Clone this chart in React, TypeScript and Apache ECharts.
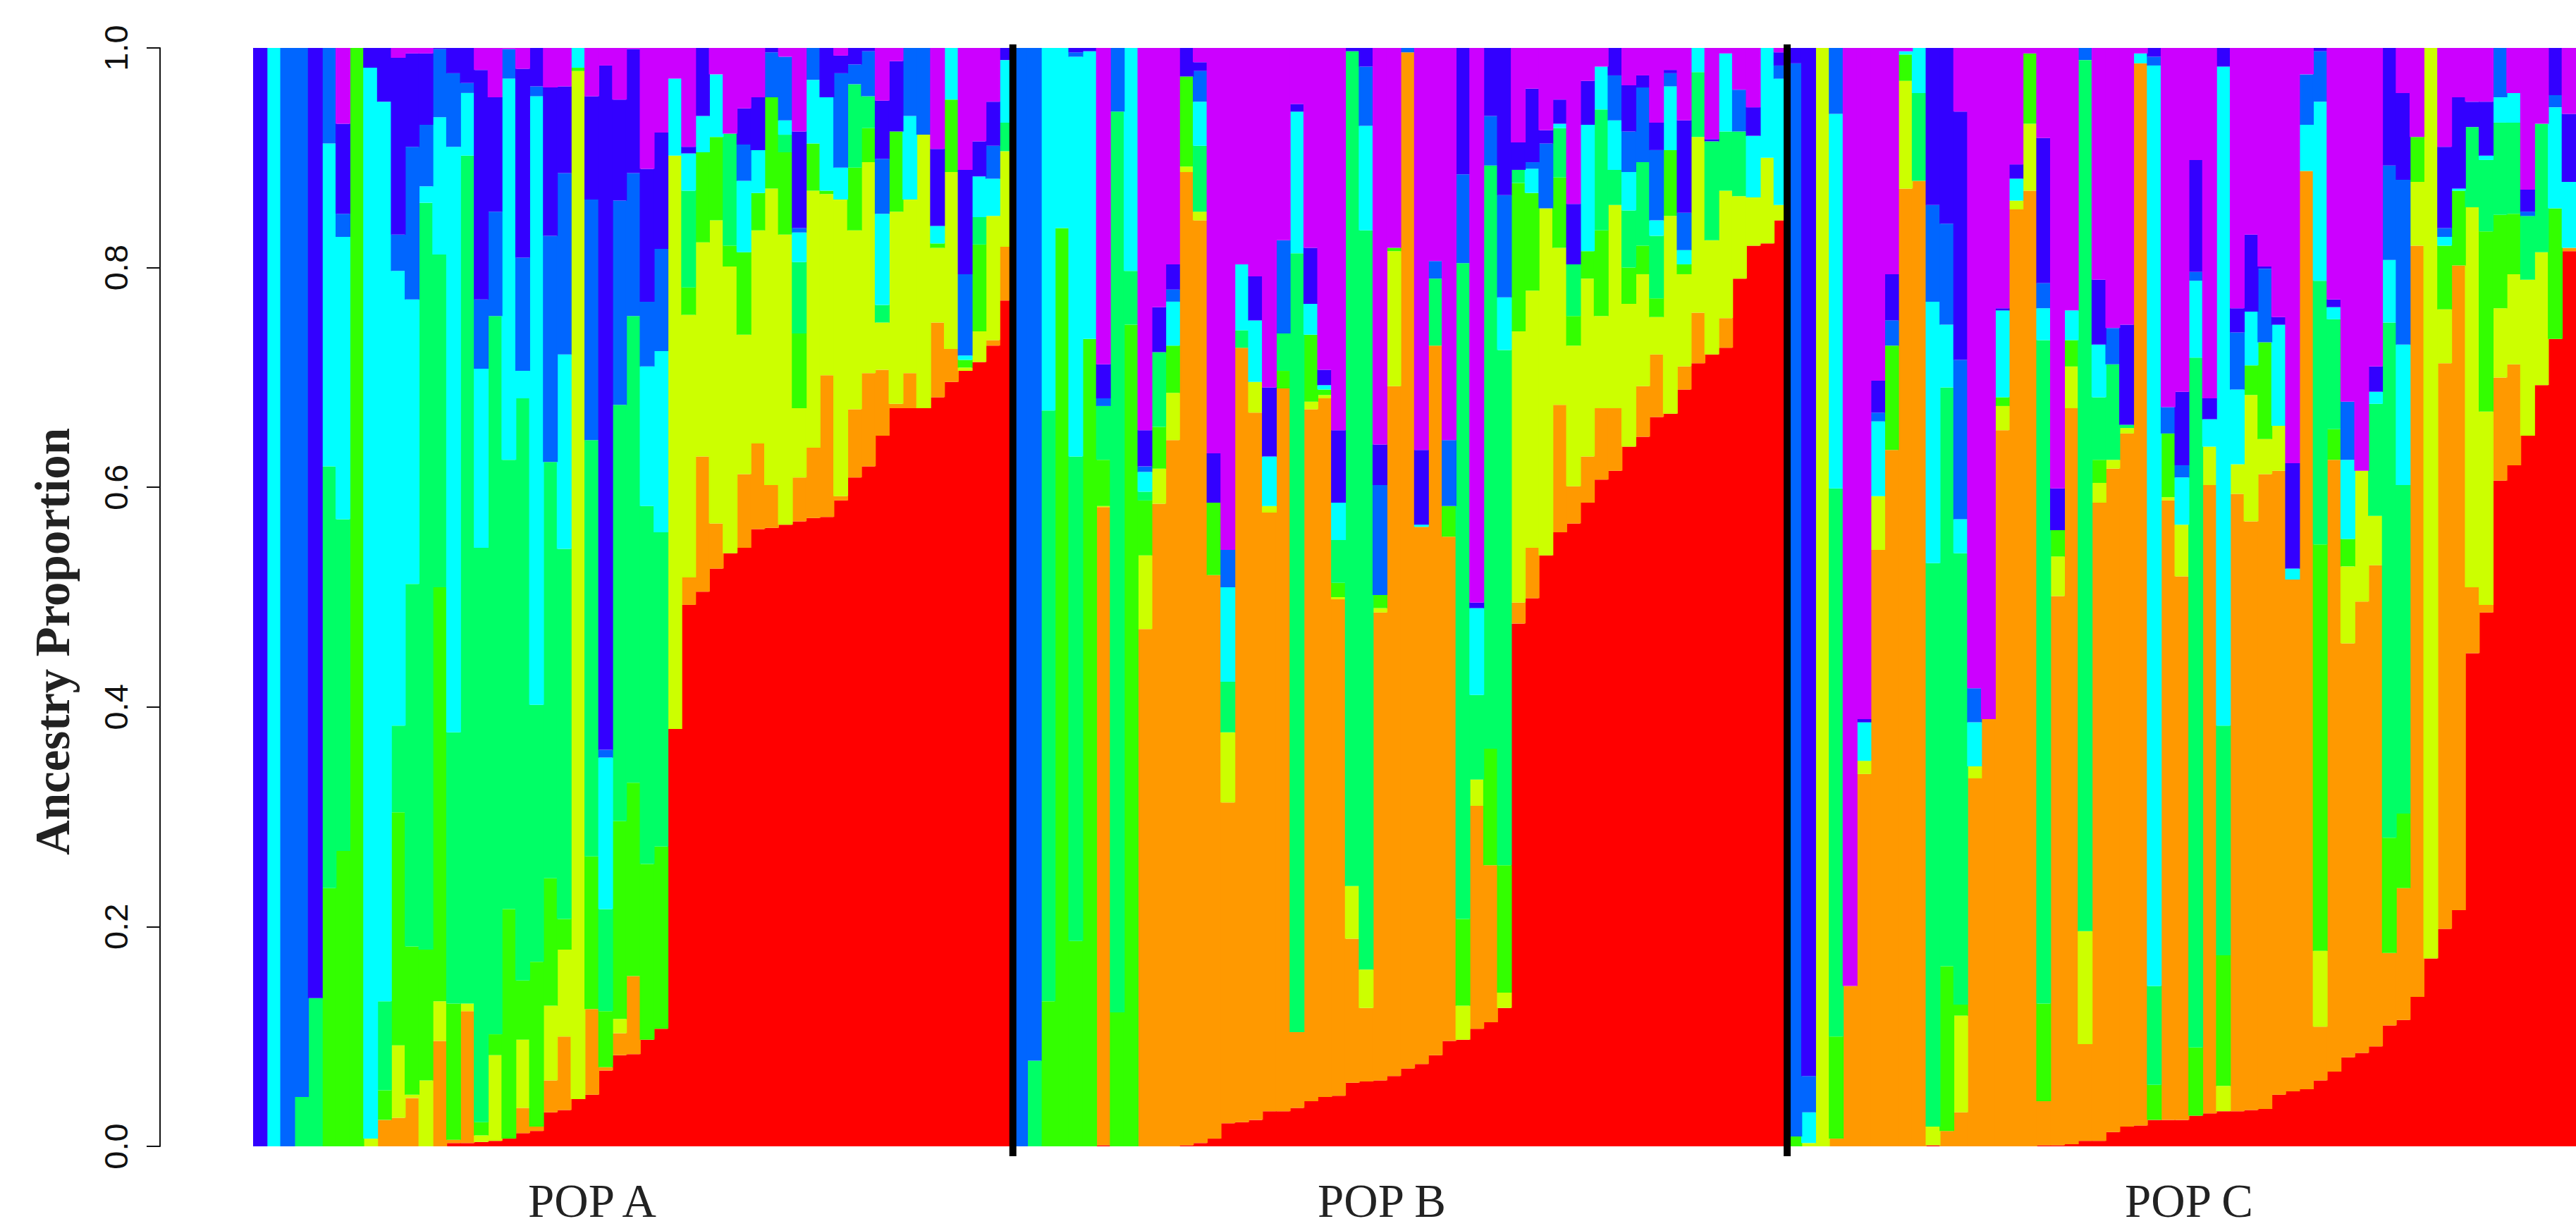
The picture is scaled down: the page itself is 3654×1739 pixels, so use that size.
import React, { useEffect, useRef } from "react";
import * as echarts from "echarts";

// Ancestry components, bottom to top of every bar
const R = 0, O = 1, Y = 2, G = 3, S = 4, C = 5, B = 6, I = 7, M = 8;
const componentColors = ["#FF0000", "#FF9900", "#CCFF00", "#33FF00", "#00FF66", "#00FFFF", "#0066FF", "#3300FF", "#CC00FF"];
const yTicks = ["0.0", "0.2", "0.4", "0.6", "0.8", "1.0"];
const popLabels = ["POP A", "POP B", "POP C"];

// Each bar: component, cumulative top of that component, component, cumulative top...
const popA = [
  [I,1],[C,1],[B,1],[S,.045,B,1],[S,.135,I,1],
  [G,.235,S,.619,C,.913,B,1],
  [G,.269,S,.571,C,.828,B,.849,I,.931,M,1],
  [G,1],
  [Y,.007,C,.982,I,1],
  [O,.024,G,.051,S,.132,C,.951,I,1],
  [O,.026,Y,.092,G,.304,S,.383,C,.797,B,.830,I,.991,M,1],
  [O,.044,Y,.047,G,.182,S,.512,C,.771,B,.910,I,.995,M,1],
  [Y,.060,G,.179,S,.859,C,.874,B,.930,I,.995,M,1],
  [O,.096,Y,.132,G,.509,S,.812,C,.937,B,.999,I,1],
  [R,.003,O,.006,G,.130,S,.377,C,.910,B,.977,I,1],
  [R,.003,O,.123,Y,.130,S,.902,C,.959,B,.968,I,1],
  [R,.004,Y,.010,G,.022,S,.545,C,.708,B,.771,I,.980,M,1],
  [R,.005,Y,.083,G,.102,S,.756,B,.851,I,.955,M,1],
  [R,.007,G,.216,S,.625,C,.972,B,.999,M,1],
  [R,.012,O,.035,Y,.097,G,.151,S,.681,C,.706,B,.809,I,.981,M,1],
  [R,.014,O,.018,G,.168,S,.402,C,.956,B,.965,I,1],
  [R,.031,O,.060,Y,.128,G,.244,S,.623,B,.829,I,.964,M,1],
  [R,.033,O,.100,Y,.179,G,.207,S,.544,C,.721,B,.886,I,.965,M,1],
  [R,.043,Y,.979,G,.982,C,1],
  [R,.047,O,.125,G,.264,S,.643,B,.862,I,.956,M,1],
  [R,.069,O,.072,G,.123,S,.216,C,.354,B,.361,I,.984,M,1],
  [R,.083,O,.103,Y,.116,G,.296,S,.675,B,.861,I,.953,M,1],
  [R,.084,O,.155,G,.331,S,.756,B,.886,I,.999,M,1],
  [R,.097,G,.257,S,.583,C,.710,B,.769,I,.890,M,1],
  [R,.107,G,.273,S,.559,C,.724,B,.817,I,.923,M,1],
  [R,.380,Y,.902,C,.972,M,1],
  [R,.493,O,.518,Y,.757,G,.782,S,.870,C,.904,I,.910,M,1],
  [R,.505,O,.628,Y,.823,G,.905,C,.938,I,1],
  [R,.526,O,.567,Y,.843,G,.919,C,.976,M,1],
  [R,.540,Y,.801,G,.820,S,.922,M,1],
  [R,.545,O,.612,Y,.739,G,.814,C,.879,B,.912,I,.945,M,1],
  [R,.562,O,.640,Y,.834,G,.868,C,.907,I,.955,M,1],
  [R,.563,O,.602,Y,.872,G,.955,B,.996,I,1],
  [R,.566,Y,.830,G,.905,S,.921,C,.934,B,.992,M,1],
  [R,.569,O,.609,Y,.672,G,.740,S,.805,C,.832,B,.836,I,.924,M,1],
  [R,.572,O,.636,Y,.870,G,.913,C,.971,B,1],
  [R,.573,O,.702,Y,.867,G,.870,C,.955,I,1],
  [R,.588,O,.592,Y,.862,C,.891,B,.977,I,.993,M,1],
  [R,.609,O,.671,Y,.834,G,.891,S,.967,B,.985,I,1],
  [R,.619,O,.704,Y,.896,G,.927,S,.956,B,.997,I,1],
  [R,.647,O,.707,Y,.750,S,.766,C,.849,B,.899,I,.952,M,1],
  [R,.672,O,.676,Y,.851,G,.924,I,.988,M,1],
  [R,.672,O,.704,Y,.862,C,.938,B,1],
  [R,.672,Y,.921,B,1],
  [R,.682,O,.750,Y,.818,G,.822,C,.838,I,.908,M,1],
  [R,.696,O,.726,Y,.887,G,.953,C,1],
  [R,.706,Y,.709,G,.716,C,.720,B,.794,I,.889,M,1],
  [R,.714,Y,.742,G,.821,S,.846,C,.883,I,.915,M,1],
  [R,.729,O,.734,Y,.847,C,.881,B,.911,I,.951,M,1],
  [R,.770,O,.819,Y,.906,S,.932,C,.989,I,1],
];

const popB = [
  [B,1],[S,.078,B,1],
  [G,.132,S,.670,C,1],
  [G,.836,C,1],
  [G,.187,S,.628,C,.992,B,.996,I,1],
  [G,.735,C,.997,I,1],
  [R,.001,O,.582,Y,.583,G,.625,S,.674,B,.681,I,.712,M,1],
  [G,.122,S,.942,B,1],
  [G,.748,S,.797,C,1],
  [O,.471,Y,.538,G,.588,S,.596,C,.614,B,.619,I,.652,M,1],
  [O,.585,Y,.617,G,.655,S,.723,I,.764,M,1],
  [O,.643,Y,.686,G,.729,C,.769,B,.780,I,.803,M,1],
  [R,.001,O,.887,Y,.892,G,.974,I,1],
  [R,.003,O,.843,Y,.851,S,.911,C,.951,B,.979,I,.987,M,1],
  [R,.007,O,.520,G,.586,I,.631,M,1],
  [R,.021,O,.313,Y,.377,S,.423,C,.509,B,.543,M,1],
  [R,.022,O,.727,S,.743,C,.803,M,1],
  [R,.024,O,.668,Y,.696,C,.752,I,.792,M,1],
  [R,.032,O,.577,Y,.583,C,.628,I,.691,M,1],
  [R,.032,O,.690,G,.706,S,.740,B,.825,M,1],
  [R,.035,O,.104,S,.813,C,.942,I,.949,M,1],
  [R,.041,O,.671,Y,.678,G,.739,C,.767,I,.818,M,1],
  [R,.045,O,.681,Y,.684,G,.689,C,.693,I,.707,M,1],
  [R,.046,O,.498,Y,.500,G,.513,S,.552,C,.586,I,.652,M,1],
  [R,.058,O,.189,Y,.237,S,.997,I,1],
  [R,.059,O,.126,Y,.161,S,.834,C,.929,B,.983,I,1],
  [R,.060,O,.486,Y,.490,G,.502,B,.602,I,.639,M,1],
  [R,.064,O,.692,Y,.815,G,.818,M,1],
  [R,.071,O,.996,B,1],
  [R,.075,O,.564,C,.566,I,.634,M,1],
  [R,.083,O,.729,S,.790,B,.806,M,1],
  [R,.096,O,.555,G,.583,B,.643,M,1],
  [R,.097,Y,.128,G,.207,S,.804,B,.885,I,1],
  [R,.107,O,.310,Y,.334,S,.411,C,.490,I,.495,M,1],
  [R,.113,O,.256,G,.362,S,.893,B,.938,I,1],
  [R,.126,Y,.140,G,.256,S,.725,C,.773,B,.866,I,1],
  [R,.476,O,.495,Y,.742,G,.877,S,.889,I,.914,M,1],
  [R,.499,O,.545,Y,.779,G,.868,C,.890,B,.896,I,.963,M,1],
  [R,.538,Y,.854,B,.913,I,.925,M,1],
  [R,.559,O,.675,Y,.818,G,.882,S,.927,C,.931,I,.953,M,1],
  [R,.567,O,.601,Y,.729,G,.756,S,.803,I,.858,M,1],
  [R,.586,O,.628,Y,.790,G,.815,C,.930,I,.970,M,1],
  [R,.607,O,.672,Y,.756,G,.834,S,.944,C,.983,M,1],
  [R,.615,O,.672,Y,.857,S,.889,C,.934,B,.975,I,1],
  [R,.637,Y,.767,G,.800,S,.852,C,.887,B,.924,I,.966,M,1],
  [R,.646,O,.692,Y,.794,G,.820,S,.896,B,.964,I,.975,M,1],
  [R,.664,O,.721,Y,.755,G,.772,S,.829,C,.843,B,.907,I,.932,M,1],
  [R,.667,Y,.847,G,.907,C,.965,B,.977,I,.980,M,1],
  [R,.689,O,.710,Y,.794,G,.803,C,.816,B,.850,I,.934,M,1],
  [R,.713,O,.759,Y,.919,S,.978,C,1],
  [R,.721,Y,.825,S,.915,I,.917,M,1],
  [R,.727,O,.754,Y,.870,S,.924,C,.995,M,1],
  [R,.790,Y,.865,S,.924,B,.962,M,1],
  [R,.820,Y,.864,C,.920,I,.946,M,1],
  [R,.822,Y,.900,C,1],
  [R,.843,Y,.857,C,.972,B,.984,I,.996,M,1],
];

const popC = [
  [G,.009,B,.986,I,1],
  [Y,.003,C,.031,B,.064,I,1],
  [Y,1],
  [O,.007,G,.100,S,.599,C,.940,B,1],
  [O,.146,M,1],
  [O,.339,Y,.351,C,.386,I,.389,M,1],
  [O,.543,Y,.592,C,.660,B,.668,I,.697,M,1],
  [O,.634,G,.729,B,.752,I,.794,M,1],
  [O,.872,Y,.970,G,.994,C,.997,M,1],
  [O,.879,S,.959,C,1],
  [R,.001,Y,.018,S,.531,C,.769,B,.857,I,1],
  [O,.014,G,.164,S,.691,C,.748,B,.840,I,1],
  [O,.031,Y,.119,G,.129,S,.540,C,.571,B,.716,I,.942,M,1],
  [O,.335,Y,.346,C,.386,B,.417,M,1],
  [O,.389,M,1],
  [O,.652,Y,.674,G,.682,C,.761,I,.763,M,1],
  [O,.853,Y,.861,C,.881,I,.894,M,1],
  [O,.870,Y,.931,G,.995,M,1],
  [R,.001,O,.041,G,.130,S,.734,C,.763,B,.786,I,.918,M,1],
  [R,.001,O,.501,Y,.537,G,.561,I,.599,M,1],
  [R,.002,O,.672,Y,.710,G,.734,C,.761,M,1],
  [R,.005,O,.093,Y,.196,S,.989,B,1],
  [R,.005,O,.586,Y,.604,G,.625,S,.682,C,.730,I,.789,M,1],
  [R,.013,O,.617,Y,.625,S,.712,B,.745,M,1],
  [R,.018,O,.649,Y,.654,S,.657,I,.748,M,1],
  [R,.019,O,.986,C,.995,M,1],
  [R,.024,G,.056,S,.146,C,.984,B,.992,I,1],
  [R,.024,O,.588,Y,.591,G,.649,B,.673,M,1],
  [R,.024,O,.519,Y,.566,C,.609,B,.620,I,.687,M,1],
  [R,.028,G,.090,S,.718,C,.788,B,.796,I,.898,M,1],
  [R,.030,O,.602,Y,.637,C,.662,I,.681,M,1],
  [R,.032,Y,.055,G,.174,S,.383,C,.983,I,1],
  [R,.032,O,.594,Y,.621,C,.689,B,.741,I,.763,M,1],
  [R,.033,O,.569,Y,.684,G,.711,C,.760,I,.830,M,1],
  [R,.034,O,.612,Y,.644,G,.732,B,.799,I,.801,M,1],
  [R,.047,O,.615,Y,.656,C,.748,I,.755,M,1],
  [R,.050,O,.516,C,.526,I,.622,M,1],
  [R,.052,O,.888,C,.930,B,.976,M,1],
  [R,.060,O,.109,Y,.178,G,.548,S,.788,C,.951,B,.997,I,1],
  [R,.068,O,.625,G,.653,S,.753,C,.764,I,.771,M,1],
  [R,.081,O,.458,Y,.528,G,.553,C,.625,B,.678,M,1],
  [R,.085,O,.496,Y,.615,M,1],
  [R,.091,O,.529,Y,.574,S,.676,C,.687,I,.710,M,1],
  [R,.110,O,.176,G,.281,S,.750,C,.807,B,.893,I,1],
  [R,.115,O,.235,G,.303,S,.602,C,.730,B,.880,I,.959,M,1],
  [R,.136,O,.820,Y,.878,G,.919,M,1],
  [R,.171,Y,1],
  [R,.198,O,.713,Y,.762,G,.820,C,.828,B,.836,I,.910,M,1],
  [R,.215,O,.802,G,.870,C,.872,I,.955,M,1],
  [R,.449,O,.509,Y,.855,S,.928,I,.951,M,1],
  [R,.486,O,.493,Y,.669,G,.833,S,.898,C,.902,I,.951,M,1],
  [R,.606,O,.700,Y,.763,G,.848,S,.932,C,.955,B,1],
  [R,.620,O,.712,Y,.794,G,.849,S,.932,C,.959,M,1],
  [R,.647,Y,.789,S,.847,B,.851,I,.871,M,1],
  [R,.693,Y,.814,S,.931,M,1],
  [R,.735,G,.854,C,.946,B,.957,I,1],
  [R,.815,O,.818,C,.878,I,.940,M,1],
];

const bars = [...popA, ...popB, ...popC];
const categories = bars.map((_, i) => String(i + 1));

function componentSeries(comp: number) {
  return bars.map((row) => {
    let prev = 0;
    for (let i = 0; i < row.length; i += 2) {
      if (row[i] === comp) return +(row[i + 1] - prev).toFixed(3);
      prev = row[i + 1];
    }
    return 0;
  });
}

const W = 3654, H = 1739;
const textFill = "#222222";

export default function App() {
  const ref = useRef<HTMLDivElement>(null);
  useEffect(() => {
    document.body.style.margin = "0";
    const chart = echarts.init(ref.current!, null, { renderer: "svg" });
    const seps = [popA.length - 1, popA.length + popB.length - 1];
    const series: any[] = componentColors.map((color, k) => ({
      type: "bar",
      name: "K" + (k + 1),
      stack: "ancestry",
      barWidth: 21,
      silent: true,
      itemStyle: { color },
      data: componentSeries(k),
    }));
    series.push({
      type: "custom",
      silent: true,
      clip: false,
      z: 10,
      data: seps.map((s) => [s, 0]),
      encode: { x: 0, y: 1 },
      renderItem: (_p: any, api: any) => {
        const band = api.size([1, 0])[0];
        const x = api.coord([api.value(0), 0])[0] + band / 2 - 1;
        const top = api.coord([0, 1])[1];
        const bottom = api.coord([0, 0])[1];
        return {
          type: "line",
          shape: { x1: x, y1: top - 5, x2: x, y2: bottom + 14 },
          style: { stroke: "#000000", lineWidth: 10 },
        };
      },
    });
    chart.setOption({
      animation: false,
      backgroundColor: "#ffffff",
      grid: { left: 359, right: 0, top: 68, bottom: H - 1626 },
      xAxis: {
        type: "category",
        data: categories,
        axisLine: { show: false },
        axisTick: { show: false },
        axisLabel: { show: false },
      },
      yAxis: {
        type: "value",
        min: 0,
        max: 1,
        interval: 0.2,
        offset: 132,
        splitLine: { show: false },
        axisLine: { show: true, lineStyle: { color: "#111111", width: 2 } },
        axisTick: { show: true, length: 19, lineStyle: { color: "#111111", width: 2 } },
        axisLabel: {
          rotate: 90,
          margin: 39,
          color: "#111111",
          fontFamily: "Liberation Sans",
          fontSize: 47,
          formatter: (v: number) => yTicks[Math.round(v * 5)],
        },
      },
      graphic: [
        {
          type: "text",
          x: 75,
          y: 910,
          rotation: Math.PI / 2,
          style: {
            text: "Ancestry Proportion",
            font: "bold 69px 'Liberation Serif'",
            fill: textFill,
            textAlign: "center",
            textVerticalAlign: "middle",
          },
        },
        ...popLabels.map((t, i) => ({
          type: "text",
          x: [840, 1960, 3105][i],
          y: 1703,
          style: {
            text: t,
            font: "67px 'Liberation Serif'",
            fill: textFill,
            textAlign: "center",
            textVerticalAlign: "middle",
          },
        })),
      ],
      series,
    });
    return () => chart.dispose();
  }, []);
  return <div ref={ref} style={{ width: W, height: H }} />;
}
